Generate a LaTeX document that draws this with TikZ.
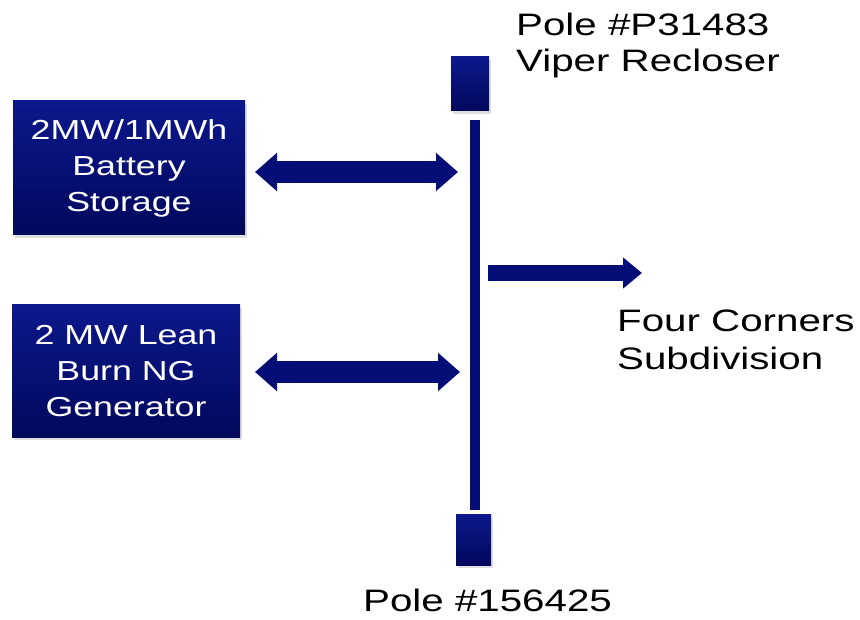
\documentclass[tikz,border=0pt]{standalone}
\usepackage{fontspec}
\setmainfont{Liberation Sans}[FakeStretch=1.3]
\usetikzlibrary{arrows.meta,shadows}
\definecolor{navy}{RGB}{4,14,118}
\definecolor{navytop}{RGB}{12,24,140}
\definecolor{navybot}{RGB}{2,8,92}
\begin{document}
\begin{tikzpicture}[x=1pt,y=-1pt,
  srcbox/.style={rectangle, inner sep=0pt, minimum width=232pt, minimum height=134pt,
    top color=navytop, bottom color=navybot, draw=none, text=white, align=center,
    font=\fontsize{27.5}{36}\selectfont,
    drop shadow={shadow xshift=2pt, shadow yshift=-3pt, opacity=0.25}},
  polebox/.style={rectangle, inner sep=0pt, top color=navytop, bottom color=navybot, draw=none,
    drop shadow={shadow xshift=2pt, shadow yshift=-3pt, opacity=0.25}},
  lbl/.style={inner sep=0pt, anchor=north west, align=left, text=black,
    font=\fontsize{31}{36}\selectfont},
  dbl/.style={navy, line width=22pt,
    {Triangle[width=37pt,length=22pt]}-{Triangle[width=37pt,length=22pt]}},
  busline/.style={navy, line width=10pt},
  outarrow/.style={navy, line width=16pt, -{Triangle[width=30pt,length=19pt]}}
]
\useasboundingbox (0,0) rectangle (860,620);

% source boxes
\node[srcbox] (bat) at (129,168) {2MW/1MWh\\Battery\\Storage};
\node[srcbox, minimum width=228pt, minimum height=132pt] (gen) at (126,371) {2 MW Lean\\Burn NG\\Generator};

% poles
\node[polebox, minimum width=38pt, minimum height=54pt] (ptop) at (470,84) {};
\node[polebox, minimum width=35pt, minimum height=51pt] (pbot) at (473.5,539.5) {};

% labels
\node[lbl] (ltop) at (516,13) {Pole \#P31483\\Viper Recloser};
\node[lbl, font=\fontsize{31}{38}\selectfont] (lsub) at (617,310) {Four Corners\\Subdivision};
\node[lbl] (lbot) at (363,589) {Pole \#156425};

% bus
\coordinate (bustop) at (475,120);
\coordinate (busbot) at (475,510);
\draw[busline] (bustop) -- (busbot);

% arrows
\coordinate (a1s) at (255,172);
\coordinate (a1e) at (458,172);
\coordinate (a2s) at (255,372);
\coordinate (a2e) at (460,372);
\draw[dbl] (a1s) -- (a1e);
\draw[dbl] (a2s) -- (a2e);

\coordinate (os) at (488,273);
\coordinate (oe) at (642,273);
\draw[outarrow] (os) -- (oe);
\end{tikzpicture}
\end{document}
